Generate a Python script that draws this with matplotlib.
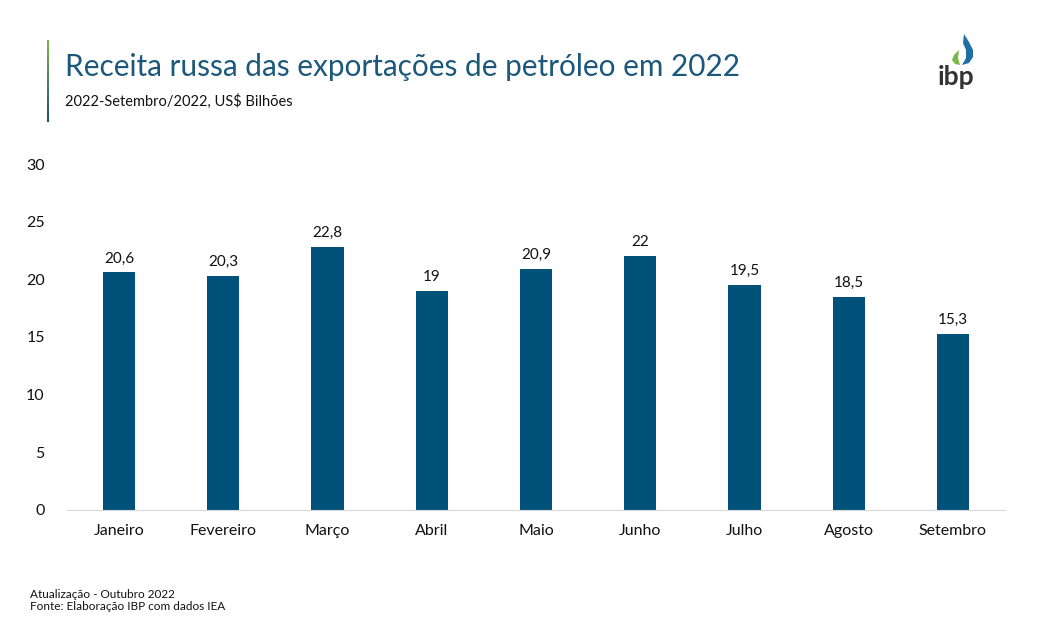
import numpy as np
import matplotlib.pyplot as plt
from matplotlib.patches import Polygon
from matplotlib.colors import LinearSegmentedColormap

meses = ["Janeiro", "Fevereiro", "Março", "Abril", "Maio", "Junho", "Julho", "Agosto", "Setembro"]
receita = [20.6, 20.3, 22.8, 19.0, 20.9, 22.0, 19.5, 18.5, 15.3]
rotulos = ["20,6", "20,3", "22,8", "19", "20,9", "22", "19,5", "18,5", "15,3"]
yticks = [0, 5, 10, 15, 20, 25, 30]

plt.rcParams['font.family'] = ['Lato', 'DejaVu Sans']

fig = plt.figure(figsize=(10.58, 6.35), dpi=100)
ax = fig.add_axes([0.0633, 0.1969, 0.8867, 0.5448])

x = np.arange(len(meses))
ax.bar(x, receita, width=0.31, color="#00527a")
for xi, v, t in zip(x, receita, rotulos):
    ax.text(xi, v + 0.6, t, ha="center", va="bottom", fontsize=11, color="#111111")

ax.set_xlim(-0.5, len(meses) - 0.5)
ax.set_ylim(0, 30)
ax.set_yticks(yticks)
ax.set_xticks(x)
ax.set_xticklabels(meses, fontsize=11.5, color="#111111")
ax.tick_params(axis="y", length=0, labelsize=11.5, labelcolor="#111111", pad=16)
ax.tick_params(axis="x", length=0, pad=10)
for s in ["top", "right", "left"]:
    ax.spines[s].set_visible(False)
ax.spines["bottom"].set_color("#d9d9d9")

# barra vertical com degrade verde -> azul
bar_ax = fig.add_axes([47 / 1058, 1 - 122 / 635, 2 / 1058, 82 / 635])
grad = LinearSegmentedColormap.from_list("g", ["#1f4e79", "#7ab648"])
bar_ax.imshow(np.linspace(0, 1, 100).reshape(-1, 1), aspect="auto", cmap=grad, origin="lower")
bar_ax.axis("off")

fig.text(65 / 1058, 1 - 67 / 635, "Receita russa das exportações de petróleo em 2022",
         fontsize=21.4, color="#1b587c", va="center", ha="left")
fig.text(65 / 1058, 1 - 101 / 635, "2022-Setembro/2022, US$ Bilhões",
         fontsize=10.5, color="#111111", va="center", ha="left")

fig.text(30 / 1058, 1 - 594 / 635, "Atualização - Outubro 2022", fontsize=8.5, color="#111111", va="center")
fig.text(30 / 1058, 1 - 607 / 635, "Fonte: Elaboração IBP com dados IEA", fontsize=8.5, color="#111111", va="center")

# logo ibp
fig.text(956 / 1058, 1 - 77 / 635, "ibp", fontsize=19, fontweight="bold", color="#333333",
         ha="center", va="center")
gota_azul = [(964, 34), (969, 42), (973, 50), (973, 57), (969, 63), (962, 65),
             (966, 58), (966, 50), (963, 43)]
gota_verde = [(959, 50), (954, 55), (952, 60), (955, 64), (960, 65), (958, 58)]
for pts, c in [(gota_azul, "#1f6fa0"), (gota_verde, "#7ab648")]:
    fig.add_artist(Polygon([(px / 1058, 1 - py / 635) for px, py in pts], closed=True,
                           facecolor=c, edgecolor="none", transform=fig.transFigure))

fig.savefig("out.png", dpi=100)
